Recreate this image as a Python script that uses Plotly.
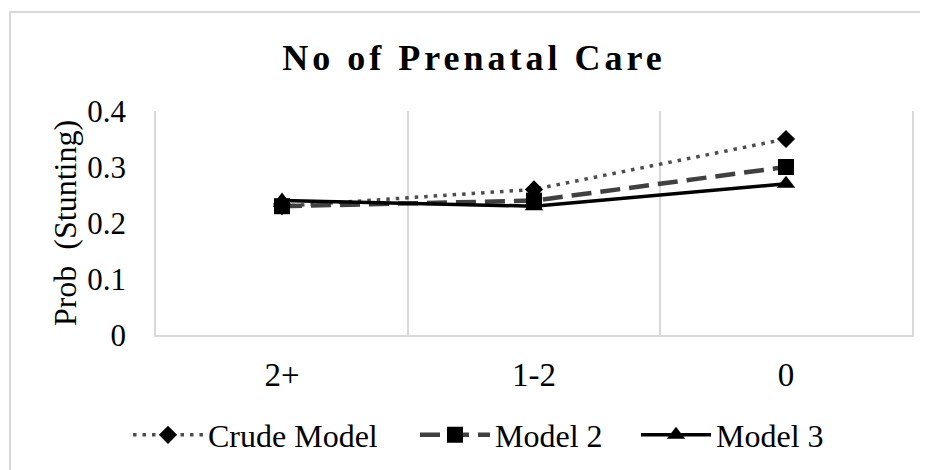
import plotly.graph_objects as go

categories = ["2+", "1-2", "0"]
crude = [0.23, 0.26, 0.35]
model2 = [0.23, 0.24, 0.30]
model3 = [0.24, 0.23, 0.27]
series_names = ["Crude Model", "Model 2", "Model 3"]
y_ticks = [0, 0.1, 0.2, 0.3, 0.4]
y_ticklabels = ["0", "0.1", "0.2", "0.3", "0.4"]

FONT = "Liberation Serif, Times New Roman, serif"
W, H = 920, 462

fig = go.Figure()
fig.add_trace(go.Scatter(
    x=categories, y=crude, name=series_names[0], mode="lines+markers",
    line=dict(color="#4d4d4d", width=3.5, dash="3.5px,6px"),
    marker=dict(symbol="diamond", size=14, color="black"),
    legend="legend",
))
fig.add_trace(go.Scatter(
    x=categories, y=model2, name=series_names[1], mode="lines+markers",
    line=dict(color="#404040", width=4.5, dash="20px,9px"),
    marker=dict(symbol="square", size=16, color="black"),
    legend="legend2",
))
fig.add_trace(go.Scatter(
    x=categories, y=model3, name=series_names[2], mode="lines+markers",
    line=dict(color="black", width=3.5),
    marker=dict(symbol="triangle-up", size=16, color="black"),
    legend="legend3",
))

def leg(xpix):
    return dict(
        orientation="h", x=xpix / W, xanchor="left", xref="container",
        y=1 - 427 / H, yanchor="middle", yref="container",
        font=dict(family=FONT, size=32, color="black"),
        itemwidth=70, bgcolor="rgba(0,0,0,0)",
    )

fig.update_layout(
    width=W, height=H,
    margin=dict(l=148, r=16, t=103, b=135),
    paper_bgcolor="white", plot_bgcolor="white",
    font=dict(family=FONT, size=32, color="black"),
    title=dict(
        text='<span style="letter-spacing:4px">No of Prenatal Care</span>',
        font=dict(family=FONT, size=36, color="black", weight="bold"),
        x=466 / W, xanchor="center", xref="container",
        y=1 - 49 / H, yanchor="middle", yref="container",
    ),
    showlegend=True,
    legend=leg(120),
    legend2=leg(407),
    legend3=leg(628),
    xaxis=dict(
        type="category", range=[-0.5, 2.5],
        tickson="boundaries", showgrid=True, gridcolor="#d9d9d9", gridwidth=1.5,
        showline=True, linecolor="#d9d9d9", linewidth=1.5,
        ticks="", ticklabelstandoff=10,
        tickfont=dict(family=FONT, size=33, color="black"),
        zeroline=False,
    ),
    yaxis=dict(
        range=[0, 0.4], tickvals=y_ticks, ticktext=y_ticklabels,
        showgrid=False, zeroline=False,
        showline=True, mirror=True, linecolor="#d9d9d9", linewidth=1.5,
        ticks="", ticklabelstandoff=22,
        tickfont=dict(family=FONT, size=31, color="black"),
        title=dict(text="Prob  (Stunting)", standoff=1,
                   font=dict(family=FONT, size=32, color="black")),
    ),
    shapes=[dict(
        type="rect", xref="paper", yref="paper",
        x0=(2 - 148) / 756, x1=1.2, y0=-1.0, y1=1 + (103 - 4) / 224,
        line=dict(color="#d9d9d9", width=2), fillcolor="rgba(0,0,0,0)", layer="below",
    )],
)

fig.write_html("out.html")
